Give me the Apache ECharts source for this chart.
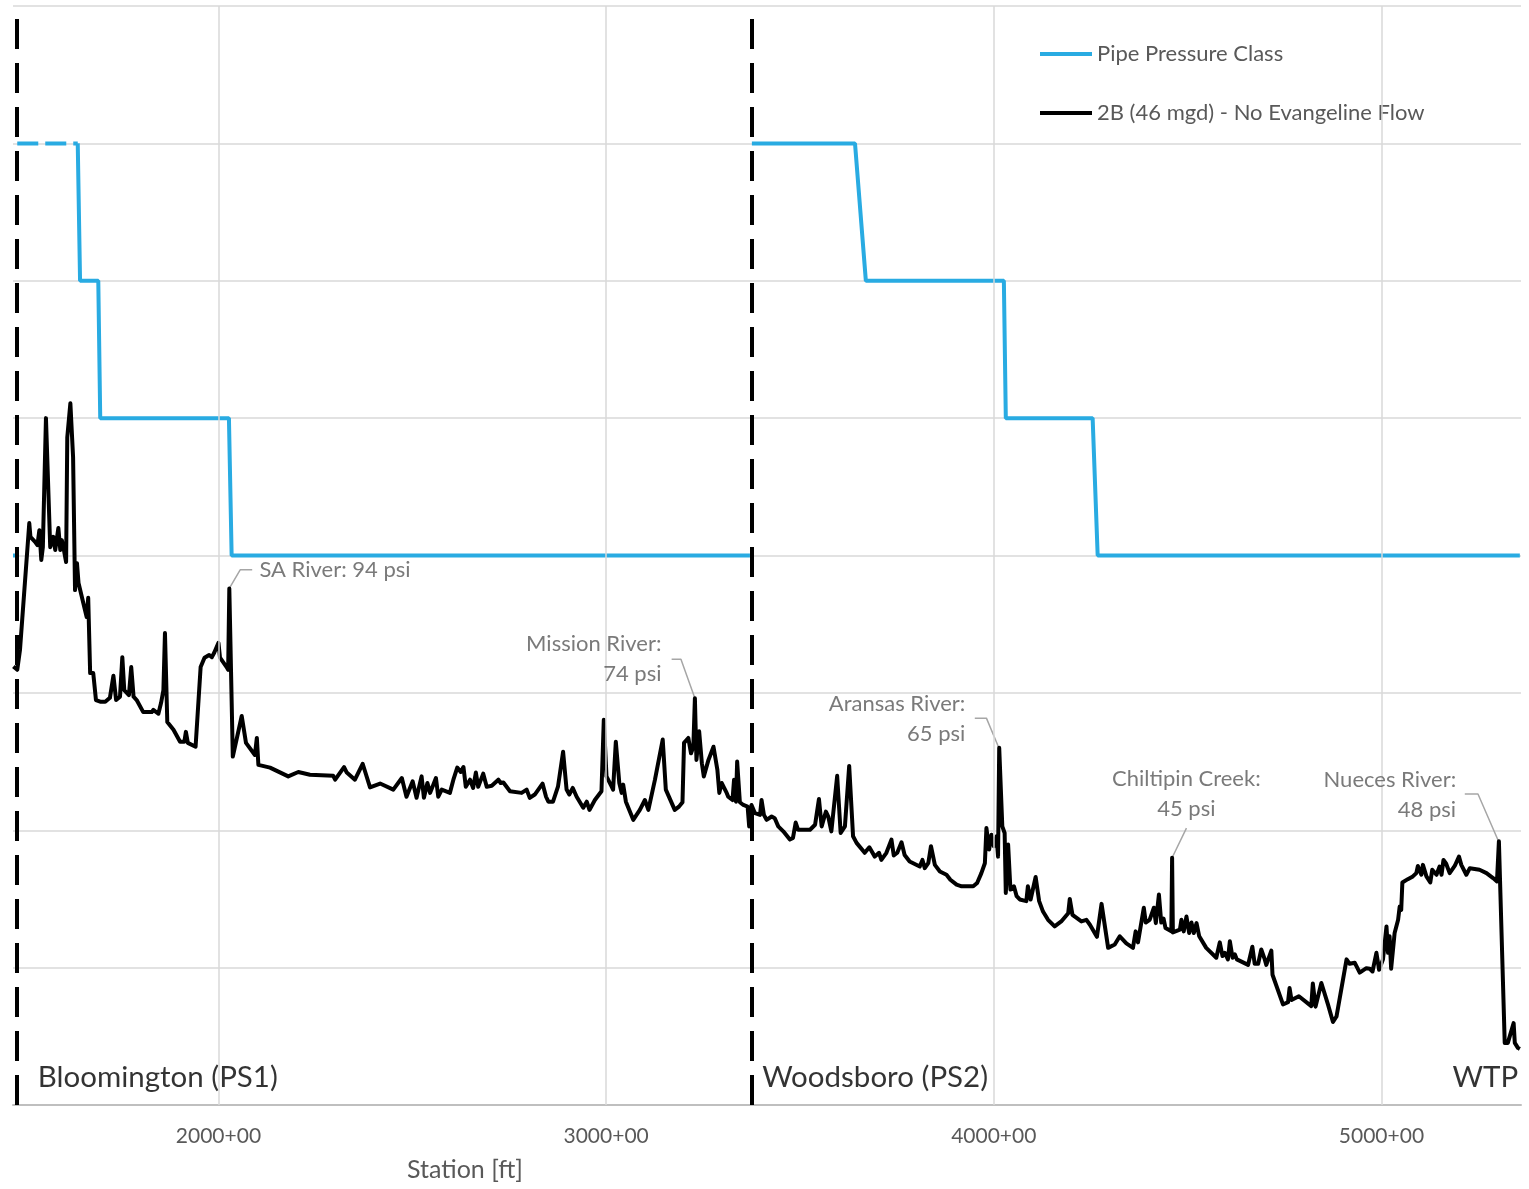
<!DOCTYPE html>
<html><head><meta charset="utf-8">
<script src="https://cdn.jsdelivr.net/npm/echarts@6/dist/echarts.min.js"></script>
<style>html,body{margin:0;padding:0;background:#fff}#c{width:1529px;height:1189px}</style>
</head><body><div id="c"></div><script>
// ---- DATA ----
const xTicks = [2000, 3000, 4000, 5000];

// Hydraulic profile: 2B (46 mgd) - No Evangeline Flow
const stations = [
1471,1481,1488,1493,1512,1515,1527,1533,1538,1543,
1547,1555,1566,1574,1579,1587,1592,1596,1600,1607,
1610,1618,1625,1630,1635,1639,1660,1664,1669,1677,
1684,1695,1708,1720,1729,1736,1746,1752,1757,1769,
1775,1781,1789,1806,1828,1832,1845,1852,1858,1862,
1868,1884,1901,1912,1916,1921,1941,1954,1964,1976,
1983,1989,2000,2004,2021,2025,2028,2037,2060,2071,
2094,2099,2103,2133,2180,2206,2236,2296,2301,2324,
2331,2352,2372,2391,2417,2451,2473,2485,2501,2511,
2524,2530,2539,2546,2561,2567,2576,2597,2606,2616,
2625,2632,2638,2649,2657,2664,2670,2683,2692,2705,
2722,2728,2735,2752,2782,2795,2803,2816,2836,2845,
2851,2863,2876,2889,2898,2905,2914,2924,2941,2950,
2957,2971,2988,2994,3001,3014,3018,3025,3034,3040,
3044,3051,3070,3087,3100,3109,3126,3146,3154,3177,
3188,3197,3201,3212,3219,3225,3229,3233,3240,3247,
3252,3264,3277,3287,3292,3298,3311,3315,3326,3330,
3335,3338,3345,3354,3365,3369,3375,3384,3397,3401,
3407,3414,3427,3435,3444,3457,3474,3482,3489,3495,
3526,3539,3549,3556,3567,3573,3581,3596,3605,3616,
3627,3637,3646,3667,3679,3693,3704,3710,3723,3736,
3742,3751,3762,3770,3783,3809,3816,3822,3831,3838,
3848,3861,3878,3888,3904,3917,3947,3957,3968,3977,
3981,3988,3994,4000,4007,4011,4014,4022,4028,4031,
4037,4043,4052,4059,4067,4084,4088,4095,4108,4117,
4127,4140,4157,4174,4192,4196,4203,4226,4239,4248,
4266,4278,4295,4312,4325,4342,4359,4366,4372,4387,
4392,4402,4413,4418,4426,4432,4438,4443,4458,4460,
4462,4480,4484,4490,4497,4504,4510,4516,4523,4530,
4548,4574,4583,4590,4596,4604,4609,4616,4622,4627,
4656,4667,4673,4682,4690,4699,4703,4716,4719,4746,
4759,4763,4768,4787,4819,4823,4830,4845,4862,4875,
4884,4910,4918,4931,4944,4961,4970,4977,4987,4994,
5004,5013,5017,5021,5025,5034,5043,5047,5051,5054,
5068,5081,5090,5094,5103,5107,5116,5126,5131,5142,
5150,5155,5160,5167,5176,5189,5200,5206,5219,5228,
5253,5271,5288,5298,5303,5318,5326,5341,5344,5352,
5357];
const pressures = [
79.8,79.2,82.8,82.8,105.9,103.4,102.5,101.9,104.6,99.2,
101.5,125.0,101.5,103.4,101.0,105.0,101.0,102.8,101.5,98.8,
121.5,127.7,117.9,93.7,98.6,95.0,88.8,92.3,78.6,78.6,
73.7,73.4,73.4,74.1,78.1,73.7,74.3,81.5,75.5,74.6,
79.7,74.3,73.7,71.5,71.5,71.9,71.2,73.2,75.5,85.9,
69.7,68.3,66.1,66.1,67.9,65.9,65.2,79.7,81.4,81.9,
81.5,82.3,84.1,81.4,79.7,79.2,94.0,63.4,70.8,65.9,
63.7,66.8,61.9,61.4,59.8,60.6,60.1,59.9,59.2,61.5,
60.5,59.2,62.1,57.8,58.5,57.4,59.5,56.1,58.9,55.9,
59.8,55.9,58.6,56.8,59.5,56.1,57.4,56.8,59.2,61.4,
60.6,61.5,57.9,59.2,57.7,60.5,57.9,60.3,57.9,58.1,
59.2,58.6,58.7,57.1,56.8,57.4,55.9,56.5,58.5,56.1,
55.2,55.2,58.0,64.3,57.4,56.5,57.7,56.1,54.1,55.2,
53.7,55.5,57.1,70.1,59.8,58.0,57.4,66.1,58.6,56.8,
58.3,55.2,51.9,53.7,55.5,53.7,59.2,66.5,57.4,53.7,
54.3,55.1,65.9,66.8,64.0,65.2,74.0,62.8,68.0,62.2,
59.8,62.8,65.2,61.0,56.8,58.6,56.8,56.1,55.5,59.2,
55.2,62.5,55.1,54.6,54.3,50.7,54.6,53.1,52.8,55.5,
52.8,51.9,52.5,52.2,50.7,49.8,48.3,48.6,51.4,50.1,
50.1,51.0,55.7,50.7,53.4,52.5,49.8,59.9,49.5,50.7,
61.7,48.9,47.7,45.9,46.9,45.2,45.9,44.6,45.9,48.3,
45.4,45.9,47.8,45.5,44.3,43.4,44.6,43.1,44.0,47.1,
43.7,42.5,41.9,41.0,40.1,39.8,39.8,40.4,42.2,44.0,
50.4,46.5,49.2,47.1,48.9,45.2,65.0,50.7,49.5,38.6,
47.4,39.2,39.8,38.0,37.4,37.1,39.8,37.4,41.5,37.1,
35.2,33.7,32.5,33.4,34.9,37.5,34.6,33.4,33.7,32.8,
30.6,36.6,28.6,29.2,30.7,29.4,28.6,31.6,29.6,35.9,
33.2,33.7,35.9,33.1,38.3,33.2,33.9,32.2,31.6,45.0,
31.4,31.9,33.7,31.6,34.3,31.3,33.2,31.3,33.1,30.7,
28.6,26.8,29.6,27.1,27.7,26.5,29.8,26.8,27.4,26.5,
25.5,28.8,25.7,25.7,28.3,26.5,25.5,28.1,23.7,18.3,
18.7,21.3,19.1,19.8,18.0,22.1,17.9,22.2,18.3,15.1,
16.1,26.5,25.7,25.9,24.1,24.9,24.8,24.3,27.7,24.6,
26.5,32.5,27.7,30.7,24.8,31.3,33.7,36.1,35.5,40.5,
41.1,41.6,42.2,43.5,41.9,43.7,41.6,40.5,42.8,41.9,
43.4,41.9,44.6,43.9,42.2,43.5,45.2,43.7,41.9,43.1,
42.8,42.2,41.3,40.7,48.0,11.3,11.3,14.9,11.3,10.4,
10.2];

// Pipe pressure class (solid) and the dashed part near Bloomington
const pipeStations = [1637,1643,1690,1695,2027,2034,3371,3373,3376,3642,3670,4026,4031,4255,4268,5357];
const pipeClass    = [175,150,150,125,125,100,100,null,175,175,150,150,125,125,100,100];
const pipeDashStations = [1470,1479,1480,1481,1637];
const pipeDashClass    = [100,100,null,175,175];

// Pump station / plant markers
const stationMarks = [1480, 3376];
const siteNames = ['Bloomington (PS1)', 'Woodsboro (PS2)', 'WTP'];
const siteStations = [1535, 3404, 5354];
const sitePsi = [5, 5, 5];
const siteAlign = ['left', 'left', 'right'];

// River crossing annotations
const annotTexts = ['SA River: 94 psi', 'Mission River:\n74 psi', 'Aransas River:\n65 psi', 'Chiltipin Creek:\n45 psi', 'Nueces River:\n48 psi'];
const annotStations = [2107, 3144, 3928, 4498, 5194];
const annotPsi = [97.2, 81.0, 70.1, 56.5, 56.3];
const annotAlign = ['left', 'right', 'right', 'center', 'right'];
const leaderStations = [2028,2056,2087,null, 3229,3193,3169,null, 4013,3981,3951,null, 4460,4497,null, 5302,5249,5215];
const leaderPsi      = [94,97.4,97.4,null, 74,81.1,81.1,null, 65,70.4,70.4,null, 45,50.4,null, 48,56.6,56.6];

// ---- BUILD ----
const zip = (xs, ys) => xs.map((x, i) => [x === null ? (xs[i-1] || 0) : x, ys[i] === null ? '-' : ys[i]]);
const FONT = 'Lato';
const TXT = '#595959';
const BLUE = '#29ABE2';
const chart = echarts.init(document.getElementById('c'), null, {renderer: 'canvas'});

const option = {
  animation: false,
  backgroundColor: '#fff',
  grid: {left: 13, right: 8, top: 6, bottom: 84},
  xAxis: {
    type: 'value', min: 1470, max: 5360,
    splitLine: {show: false},
    axisTick: {show: false, customValues: xTicks},
    axisLine: {lineStyle: {color: '#bfbfbf', width: 2}},
    axisLabel: {customValues: xTicks, formatter: v => v + '+00', color: TXT, fontSize: 21, fontFamily: FONT, margin: 21}
  },
  yAxis: {
    type: 'value', min: 0, max: 200, interval: 25,
    axisLabel: {show: false}, axisLine: {show: false}, axisTick: {show: false},
    splitLine: {lineStyle: {color: '#d9d9d9', width: 1.5}}
  },
  legend: {
    data: ['Pipe Pressure Class', '2B (46 mgd) - No Evangeline Flow'],
    orient: 'vertical', left: 1035, top: 38,
    icon: 'rect', itemWidth: 52, itemHeight: 4, itemGap: 37,
    textStyle: {color: TXT, fontSize: 22, fontFamily: FONT}
  },
  graphic: [{
    type: 'text', x: 465, y: 1170,
    style: {text: 'Station [ft]', fill: TXT, fontSize: 25, fontFamily: FONT, align: 'center', verticalAlign: 'middle'}
  }],
  series: [
    {
      name: 'grid', type: 'line', data: [], silent: true, z: 0,
      markLine: {symbol: 'none', silent: true, label: {show: false}, animation: false,
        lineStyle: {color: '#d9d9d9', width: 1.5, type: 'solid'},
        data: xTicks.map(v => ({xAxis: v}))}
    },
    {
      name: 'Pipe Pressure Class (ext)', type: 'line', data: zip(pipeDashStations, pipeDashClass),
      symbol: 'none', silent: true, z: 2,
      lineStyle: {color: BLUE, width: 4, type: [21, 7]}, itemStyle: {color: BLUE}
    },
    {
      name: 'Pipe Pressure Class', type: 'line', data: zip(pipeStations, pipeClass),
      symbol: 'none', silent: true, z: 2,
      lineStyle: {color: BLUE, width: 4}, itemStyle: {color: BLUE}
    },
    {
      name: '2B (46 mgd) - No Evangeline Flow', type: 'line', data: zip(stations, pressures),
      symbol: 'none', silent: true, z: 3,
      lineStyle: {color: '#000', width: 4, join: 'round'}, itemStyle: {color: '#000'}
    },
    {
      name: 'stations', type: 'line', data: [], silent: true, z: 4,
      markLine: {symbol: 'none', silent: true, label: {show: false}, animation: false,
        lineStyle: {color: '#000', width: 4, type: [30, 14]},
        data: stationMarks.map(v => ({xAxis: v}))}
    },
    {
      name: 'leaders', type: 'line', data: zip(leaderStations, leaderPsi),
      symbol: 'none', silent: true, z: 2,
      lineStyle: {color: '#a6a6a6', width: 1.5}
    },
    {
      name: 'annotations', type: 'scatter', silent: true, z: 5,
      symbolSize: 1, itemStyle: {color: 'rgba(0,0,0,0)'},
      data: annotTexts.map((t, i) => ({
        value: [annotStations[i], annotPsi[i]],
        label: {show: true, formatter: t, position: [0, 0], align: annotAlign[i], verticalAlign: 'middle',
          color: TXT, fontSize: 22, fontFamily: FONT, lineHeight: 30}
      }))
    },
    {
      name: 'sites', type: 'scatter', silent: true, z: 5,
      symbolSize: 1, itemStyle: {color: 'rgba(0,0,0,0)'},
      data: siteNames.map((t, i) => ({
        value: [siteStations[i], sitePsi[i]],
        label: {show: true, formatter: t, position: [0, 0], align: siteAlign[i], verticalAlign: 'middle',
          color: '#000', fontSize: 29.5, fontFamily: FONT}
      }))
    }
  ]
};
chart.setOption(option);
</script></body></html>
